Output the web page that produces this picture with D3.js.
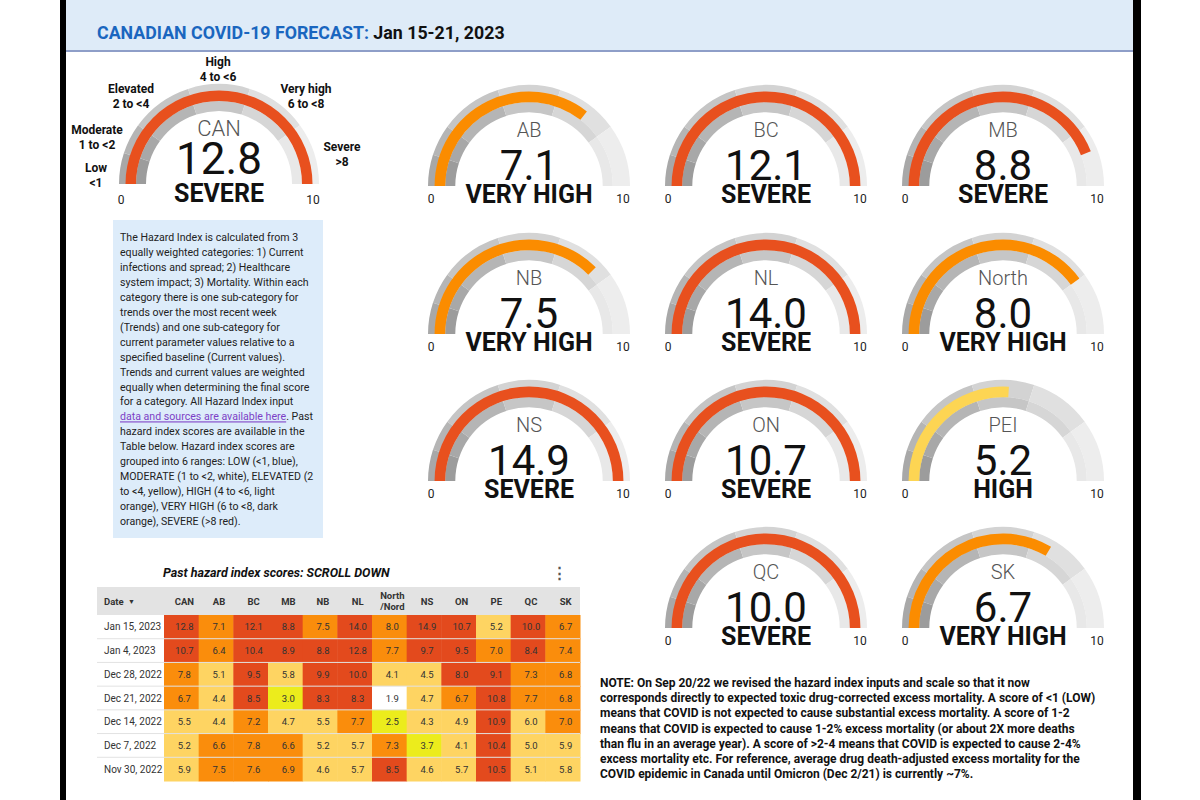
<!DOCTYPE html>
<html><head><meta charset="utf-8">
<script src="https://cdn.jsdelivr.net/npm/d3@7"></script>
<style>
body{margin:0;background:#fff}
svg{display:block;font-family:Roboto,"Noto Sans",sans-serif}
</style>
</head><body><svg id="c" width="1200" height="800"></svg>
<script>
// ---------- DATA ----------
const titleMain = "CANADIAN COVID-19 FORECAST:";
const titleDate = " Jan 15-21, 2023";
const gaugeNames = ["CAN","AB","BC","MB","NB","NL","North","NS","ON","PEI","QC","SK"];
const gaugeValues = [12.8,7.1,12.1,8.8,7.5,14.0,8.0,14.9,10.7,5.2,10.0,6.7];
const gaugeTicks = [0,10];
const levelNames = ["LOW","MODERATE","ELEVATED","HIGH","VERY HIGH","SEVERE"];
const levelBreaks = [1,2,4,6,8];
const rangeLabels = [["Low","<1"],["Moderate","1 to <2"],["Elevated","2 to <4"],["High","4 to <6"],["Very high","6 to <8"],["Severe",">8"]];
const tableTitle = "Past hazard index scores: SCROLL DOWN";
const tableDates = ["Jan 15, 2023","Jan 4, 2023","Dec 28, 2022","Dec 21, 2022","Dec 14, 2022","Dec 7, 2022","Nov 30, 2022"];
const tableCols = ["CAN","AB","BC","MB","NB","NL","North/Nord","NS","ON","PE","QC","SK"];
const rowJan15 = [12.8,7.1,12.1,8.8,7.5,14.0,8.0,14.9,10.7,5.2,10.0,6.7];
const rowJan04 = [10.7,6.4,10.4,8.9,8.8,12.8,7.7,9.7,9.5,7.0,8.4,7.4];
const rowDec28 = [7.8,5.1,9.5,5.8,9.9,10.0,4.1,4.5,8.04,9.1,7.3,6.8];
const rowDec21 = [6.7,4.4,8.5,3.0,8.3,8.3,1.9,4.7,6.7,10.8,7.7,6.8];
const rowDec14 = [5.5,4.4,7.2,4.7,5.5,7.7,2.5,4.3,4.9,10.9,5.96,7.0];
const rowDec07 = [5.2,6.6,7.8,6.6,5.2,5.7,7.3,3.7,4.1,10.4,5.0,5.9];
const rowNov30 = [5.9,7.5,7.6,6.9,4.6,5.7,8.5,4.6,5.7,10.5,5.1,5.8];
const tableRows = [rowJan15,rowJan04,rowDec28,rowDec21,rowDec14,rowDec07,rowNov30];
const infoLines = [
 "The Hazard Index is calculated from 3",
 "equally weighted categories: 1) Current",
 "infections and spread; 2) Healthcare",
 "system impact; 3) Mortality. Within each",
 "category there is one sub-category for",
 "trends over the most recent week",
 "(Trends) and one sub-category for",
 "current parameter values relative to a",
 "specified baseline (Current values).",
 "Trends and current values are weighted",
 "equally when determining the final score",
 "for a category. All Hazard Index input",
 "@data and sources are available here@. Past",
 "hazard index scores are available in the",
 "Table below. Hazard index scores are",
 "grouped into 6 ranges: LOW (<1, blue),",
 "MODERATE (1 to <2, white), ELEVATED (2",
 "to <4, yellow), HIGH (4 to <6, light",
 "orange), VERY HIGH (6 to <8, dark",
 "orange), SEVERE (>8 red)."
];
const noteLines = [
 "NOTE: On Sep 20/22 we revised the hazard index inputs and scale so that it now",
 "corresponds directly to expected toxic drug-corrected excess mortality. A score of <1 (LOW)",
 "means that COVID is not expected to cause substantial excess mortality. A score of 1-2",
 "means that COVID is expected to cause 1-2% excess mortality (or about 2X more deaths",
 "than flu in an average year). A score of >2-4 means that COVID is expected to cause 2-4%",
 "excess mortality etc. For reference, average drug death-adjusted excess mortality for the",
 "COVID epidemic in Canada until Omicron (Dec 2/21) is currently ~7%."
];

// ---------- STYLE / LAYOUT ----------
const levelOf = v => d3.bisectLeft(levelBreaks, v);
const gaugeArcColors = ["#4a90e2","#ffffff","#eeee22","#fdd553","#fb8c00","#e8501e"];
const cellColors = ["#6fa8dc","#ffffff","#ecec1c","#fed462","#fa8d0c","#e34a1d"];
const bandOuter = ["#a8a8a8","#b5b5b5","#c5c5c5","#d3d3d3","#e0e0e0","#ededed"];
const bandInner = ["#9c9c9c","#a8a8a8","#b5b5b5","#c6c6c6","#d6d6d6","#e8e8e8"];
const segEdges = [0,1,2,4,6,8,10];

const svg = d3.select("#c");
svg.append("rect").attr("width",1200).attr("height",800).attr("fill","#fff");

// frame
svg.append("rect").attr("x",60).attr("y",0).attr("width",6).attr("height",800).attr("fill","#000");
svg.append("rect").attr("x",1133).attr("y",0).attr("width",8).attr("height",800).attr("fill","#000");
svg.append("rect").attr("x",66).attr("y",0).attr("width",1067).attr("height",50).attr("fill","#deebf8");
svg.append("line").attr("x1",66).attr("x2",1133).attr("y1",51).attr("y2",51).attr("stroke","#8e9ec8").attr("stroke-width",2);
const t = svg.append("text").attr("x",97).attr("y",39).attr("font-size",17.8).attr("font-weight",700);
t.append("tspan").attr("fill","#1a66bf").text(titleMain);
t.append("tspan").attr("fill","#111").text(titleDate);

// ---------- GAUGES ----------
const colX = [529,766,1003], rowY = [186,334,481,628];
const gaugeLayout = [
  {cx:219, cy:184, R:100},
  {c:0,r:0},{c:1,r:0},{c:2,r:0},
  {c:0,r:1},{c:1,r:1},{c:2,r:1},
  {c:0,r:2},{c:1,r:2},{c:2,r:2},
  {c:1,r:3},{c:2,r:3}
];
const angle = d3.scaleLinear().domain([0,10]).range([-Math.PI/2, Math.PI/2]).clamp(true);

gaugeNames.forEach((name,i) => {
  const L = gaugeLayout[i];
  const cx = L.cx ?? colX[L.c], cy = L.cy ?? rowY[L.r], R = L.R ?? 101;
  const v = gaugeValues[i], lvl = levelOf(v);
  const g = svg.append("g").attr("transform",`translate(${cx},${cy})`);
  const segs = d3.range(6).map(k => ({a:segEdges[k], b:segEdges[k+1], k}));
  const outerArc = d3.arc().innerRadius(0.83*R).outerRadius(R);
  const innerArc = d3.arc().innerRadius(0.73*R).outerRadius(0.83*R);
  g.selectAll("path.o").data(segs).join("path").attr("class","o")
    .attr("d", d => outerArc({startAngle:angle(d.a), endAngle:angle(d.b)}))
    .attr("fill", d => bandOuter[d.k]);
  g.selectAll("path.i").data(segs).join("path").attr("class","i")
    .attr("d", d => innerArc({startAngle:angle(d.a), endAngle:angle(d.b)}))
    .attr("fill", d => bandInner[d.k]);
  const valArc = d3.arc().innerRadius(0.83*R).outerRadius(0.935*R);
  g.append("path").attr("d", valArc({startAngle:angle(0), endAngle:angle(v)}))
    .attr("fill", gaugeArcColors[lvl]);
  const isCan = i===0;
  g.append("text").attr("text-anchor","middle").attr("y",-56).attr("dy","0.35em")
    .attr("font-size",isCan?22:20).attr("font-weight",300).attr("fill","#555").text(name);
  g.append("text").attr("text-anchor","middle").attr("y",isCan?-10:-6)
    .attr("font-size",isCan?44:42).attr("fill","#111").text(v.toFixed(1));
  g.append("text").attr("text-anchor","middle").attr("y",isCan?18:17)
    .attr("font-size",25).attr("font-weight",700).attr("fill","#111").text(levelNames[lvl]);
  g.selectAll("text.tk").data(gaugeTicks).join("text").attr("class","tk")
    .attr("x", d => d===0 ? -98 : 94).attr("y", isCan?20:17).attr("text-anchor","middle")
    .attr("font-size",12).attr("fill","#222").text(d => d);
});

// range labels around CAN gauge
const rangePos = [[96,168],[97,130],[131,89],[218,62],[306,89],[342,147]];
rangeLabels.forEach((lab,k) => {
  const tx = svg.append("text").attr("text-anchor","middle").attr("font-size",12)
    .attr("font-weight",700).attr("fill","#111");
  lab.forEach((s,j) => tx.append("tspan").attr("x",rangePos[k][0]).attr("y",rangePos[k][1]+4+j*15).text(s));
});

// ---------- INFO BOX ----------
svg.append("rect").attr("x",113).attr("y",220).attr("width",210).attr("height",318).attr("fill","#ddecfa");
infoLines.forEach((line,k) => {
  const tx = svg.append("text").attr("x",120).attr("y",241+k*14.95).attr("font-size",10.6).attr("fill","#222");
  const parts = line.split("@");
  parts.forEach((p,j) => {
    const ts = tx.append("tspan").text(p);
    if (j===1) ts.attr("fill","#7c3fc6").attr("text-decoration","underline");
  });
});

// ---------- TABLE ----------
svg.append("text").attr("x",163).attr("y",577).attr("font-size",12.5).attr("font-weight",700)
  .attr("font-style","italic").attr("fill","#111").text(tableTitle);
svg.append("text").attr("x",559).attr("y",578).attr("text-anchor","middle").attr("font-size",15)
  .attr("font-weight",700).attr("fill","#555").text("⋮");
const xCol = d3.scaleBand().domain(tableCols).range([164,580]);
const yRow = d3.scaleBand().domain(tableDates).range([615,781]);
svg.append("rect").attr("x",97).attr("y",587).attr("width",483).attr("height",28).attr("fill","#e3e3e3");
const hdr = svg.append("g").attr("font-size",9.5).attr("font-weight",700).attr("fill","#333");
hdr.append("text").attr("x",104).attr("y",604.5).text("Date");
hdr.append("text").attr("x",128).attr("y",604).attr("font-size",7).text("▼");
tableCols.forEach(c => {
  const tx = hdr.append("text").attr("text-anchor","middle");
  const parts = c.split("/");
  const cxp = xCol(c)+xCol.bandwidth()/2+3;
  if (parts.length===1) tx.attr("x",cxp).attr("y",604.5).text(c);
  else {
    tx.append("tspan").attr("x",cxp).attr("y",599).text(parts[0]);
    tx.append("tspan").attr("x",cxp).attr("y",610).text("/"+parts[1]);
  }
});
tableRows.forEach((row,ri) => {
  const y0 = yRow(tableDates[ri]);
  const g = svg.append("g");
  g.selectAll("rect").data(row).join("rect")
    .attr("x",(d,ci)=>xCol(tableCols[ci])).attr("y",y0)
    .attr("width",xCol.bandwidth()+0.5).attr("height",yRow.bandwidth()+0.5)
    .attr("fill",d=>cellColors[levelOf(d)]);
  g.selectAll("text").data(row).join("text")
    .attr("x",(d,ci)=>xCol(tableCols[ci])+xCol.bandwidth()/2+3).attr("y",y0+yRow.bandwidth()/2+3.5)
    .attr("text-anchor","middle").attr("font-size",9.5).attr("fill","#333").text(d=>d.toFixed(1));
  svg.append("text").attr("x",104).attr("y",y0+yRow.bandwidth()/2+3.5).attr("font-size",10)
    .attr("fill","#333").text(tableDates[ri]);
  if (ri>0) svg.append("line").attr("x1",97).attr("x2",580).attr("y1",y0).attr("y2",y0)
    .attr("stroke","#e2e2e2").attr("stroke-width",1);
});

// ---------- NOTE ----------
noteLines.forEach((line,k) => {
  svg.append("text").attr("x",600).attr("y",687+k*15.2).attr("font-size",12).attr("font-weight",700)
    .attr("fill","#111").text(line);
});
</script>
</body></html>
